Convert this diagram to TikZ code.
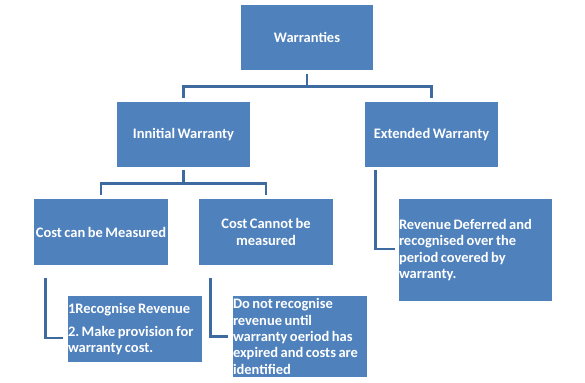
\documentclass[tikz,border=0pt]{standalone}
\usepackage{fontspec}
\setmainfont{Carlito}
\definecolor{boxblue}{HTML}{4F81BD}
\definecolor{lineblue}{HTML}{3D6A9F}
\newcommand{\boxfont}{\bfseries\fontsize{14.5}{16.3}\selectfont}
\newcommand{\tightsp}{\frenchspacing\spaceskip=0.17em plus 0.02em\relax\xspaceskip=0.17em\relax}
\begin{document}
\begin{tikzpicture}[x=1pt,y=-1pt,
  wbox/.style={fill=boxblue, text=white, font=\boxfont,
    inner sep=0pt, align=center, anchor=center, execute at begin node=\tightsp},
  lbox/.style={wbox, align=left},
  conn/.style={draw=lineblue, line width=2.8pt}]
\useasboundingbox[fill=white] (0,0) rectangle (585,382);

\node[wbox, minimum width=132pt, minimum height=65pt] (w) at (307,37.5) {Warranties};
\node[wbox, minimum width=133pt, minimum height=65pt] (iw) at (183.5,134.5) {Innitial Warranty};
\node[wbox, minimum width=133pt, minimum height=65pt] (ew) at (431.5,134.5) {Extended Warranty};
\node[wbox, minimum width=134pt, minimum height=66pt] (cm) at (101,232) {Cost can be Measured};
\node[wbox, minimum width=134pt, minimum height=66pt] (cn) at (266,232) {Cost Cannot be\\measured};
\node[lbox, text width=153pt, minimum height=102pt] (rd) at (475.5,250)
  {Revenue Deferred and\\recognised over the\\period covered by\\warranty.};
\node[lbox, text width=134pt, minimum height=66pt] (rr) at (135,329)
  {1Recognise Revenue\\[6.5pt]2. Make provision for\\warranty cost.};
\node[lbox, text width=134pt, minimum height=81pt] (dn) at (300,336.5)
  {Do not recognise\\revenue until\\warranty oeriod has\\expired and costs are\\identified};

\draw[conn, shorten <=4pt, shorten >=4pt] (w.south) -- ++(0,16) -| (iw.north);
\draw[conn, shorten <=4pt, shorten >=4pt] (w.south) -- ++(0,16) -| (ew.north);
\draw[conn, shorten <=3pt, shorten >=4pt] (iw.south) -- ++(0,16) -| (cm.north);
\draw[conn, shorten <=3pt, shorten >=4pt] (iw.south) -- ++(0,16) -| (cn.north);

\draw[conn, shorten <=13pt, shorten >=5pt] ([xshift=12pt]cm.south west) |- ([yshift=-9pt]rr.west);
\draw[conn, shorten <=13pt, shorten >=5pt] ([xshift=12pt]cn.south west) |- (dn.west);
\draw[conn, shorten <=3pt, shorten >=4pt] ([xshift=11pt]ew.south west) |- ([yshift=1pt]rd.west);
\end{tikzpicture}
\end{document}
